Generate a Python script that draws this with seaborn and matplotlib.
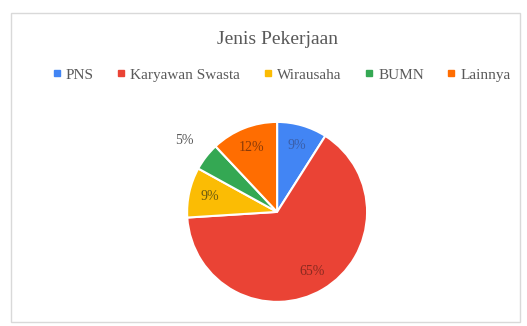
import matplotlib
matplotlib.use("Agg")
import matplotlib.pyplot as plt
import seaborn as sns
import numpy as np
from matplotlib.patches import Rectangle
from matplotlib.lines import Line2D

sns.set_theme(style="white")
plt.rcParams['font.family'] = ['Liberation Serif', 'DejaVu Serif']

categories = ["PNS", "Karyawan Swasta", "Wirausaha", "BUMN", "Lainnya"]
values = [9, 65, 9, 5, 12]
colors = ["#4285F4", "#EA4335", "#FBBC04", "#34A853", "#FF6D01"]
label_colors = ["#3a5ea8", "#8a2a20", "#6b5a10", "#595959", "#8a3a08"]

fig = plt.figure(figsize=(5.27, 3.26), dpi=100)
fig.patch.set_facecolor("white")

# chart border
fig.add_artist(Rectangle((11/527, 1 - 322/326), (520 - 11)/527, (322 - 13)/326,
                         transform=fig.transFigure, fill=False,
                         edgecolor="#d9d9d9", linewidth=1.0))

ax = fig.add_axes([0.355, 0.074, 0.3416, 0.552])
wedges, texts, autotexts = ax.pie(
    values, colors=colors, startangle=90, counterclock=False,
    autopct=lambda p: f"{p:.0f}%", pctdistance=0.77,
    wedgeprops=dict(edgecolor="white", linewidth=1.5),
    textprops=dict(fontsize=10))
ax.set_xlim(-1, 1)
ax.set_ylim(-1, 1)
ax.set_aspect("equal")

for i, (w, t) in enumerate(zip(wedges, autotexts)):
    t.set_color(label_colors[i])
    if values[i] <= 5:
        ang = np.deg2rad((w.theta1 + w.theta2) / 2)
        t.set_position((1.3 * np.cos(ang), 1.3 * np.sin(ang)))
        t.set_color("#595959")

fig.text(0.527, 1 - 40/326, "Jenis Pekerjaan", ha="center", va="center",
         fontsize=14, color="#595959")

handles = [Line2D([0], [0], marker="s", linestyle="", markersize=4.5,
                  markerfacecolor=c, markeredgecolor=c) for c in colors]
fig.legend(handles, categories, loc="center", bbox_to_anchor=(0.531, 1 - 75/326),
           ncol=5, frameon=False, fontsize=11, handletextpad=0.1,
           columnspacing=1.3, labelcolor="#595959", handlelength=1.0)

fig.savefig("out.png", dpi=100, facecolor="white")
